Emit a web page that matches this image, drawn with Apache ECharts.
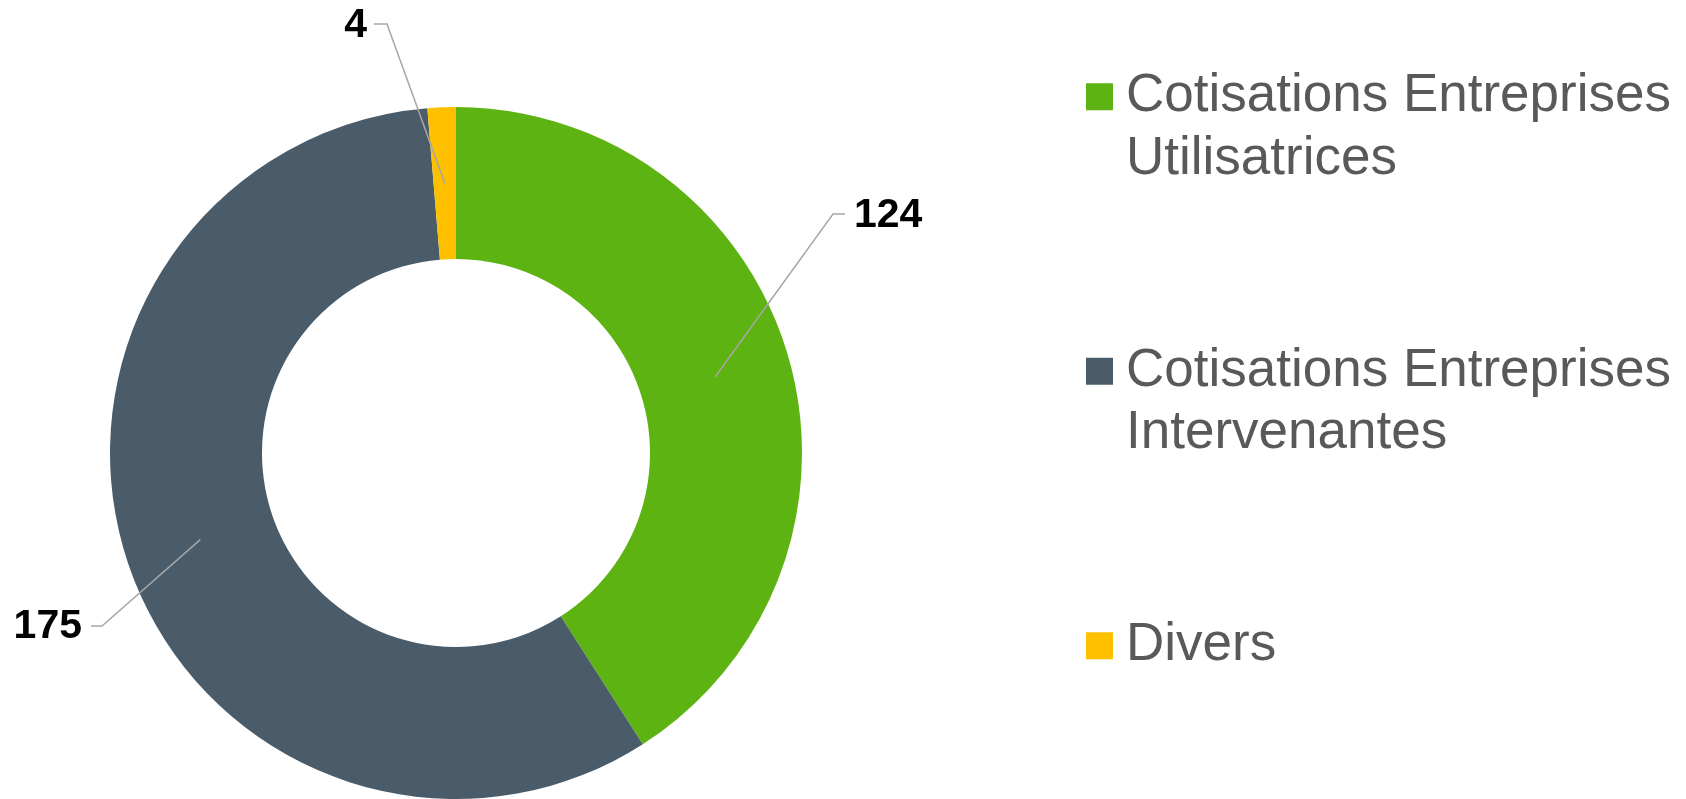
<!DOCTYPE html>
<html>
<head>
<meta charset="utf-8">
<script src="https://cdn.jsdelivr.net/npm/echarts@6/dist/echarts.min.js"></script>
<style>
  html, body { margin: 0; padding: 0; background: #fff; }
  #chart { width: 1686px; height: 799px; }
</style>
</head>
<body>
<div id="chart"></div>
<script>
// Data
const categories = [
    'Cotisations Entreprises Utilisatrices',
    'Cotisations Entreprises Intervenantes',
    'Divers'
];
const values = [124, 175, 4];
const colors = ['#5DB312', '#4A5C6A', '#FFC000'];

// Donut geometry
const cx = 456, cy = 453;
const rInner = 194, rOuter = 346;

// Where each label sits (anchor, alignment, elbow of the leader line)
const labelSpots = [
    { x: 854, y: 216, align: 'left', elbowX: 833, endX: 845, lineY: 214 },
    { x: 82, y: 627, align: 'right', elbowX: 102, endX: 91, lineY: 626 },
    { x: 367, y: 26, align: 'right', elbowX: 387, endX: 374, lineY: 24 }
];

// mid-ring point of each slice, from the values
function sliceMidPoint(idx) {
    const total = values.reduce((a, b) => a + b, 0);
    let before = 0;
    for (let i = 0; i < idx; i++) before += values[i];
    const angle = (before + values[idx] / 2) / total * Math.PI * 2;
    const r = (rInner + rOuter) / 2;
    return [cx + r * Math.sin(angle), cy - r * Math.cos(angle)];
}

const chart = echarts.init(document.getElementById('chart'));

const pieData = categories.map((name, i) => ({ name: name, value: values[i] }));

const option = {
    animation: false,
    color: colors,
    legend: {
        orient: 'vertical',
        left: 1086,
        top: 3,
        padding: 0,
        itemGap: 87,
        itemWidth: 27,
        itemHeight: 27,
        icon: 'rect',
        selectedMode: false,
        data: categories.map((name, i) => ({
            name: name,
            itemStyle: { color: colors[i], opacity: 1 }
        })),
        formatter: name => name === 'Divers'
            ? '\nDivers\n'
            : '\n' + name.replace('Entreprises ', 'Entreprises\n'),
        textStyle: {
            fontFamily: 'Liberation Sans, Arial, sans-serif',
            fontSize: 53,
            lineHeight: 62.5,
            color: '#595959',
            padding: [0, 0, 0, 8]
        }
    },
    series: [
        {
            // the donut itself
            type: 'pie',
            z: 2,
            center: [cx, cy],
            radius: [rInner, rOuter],
            startAngle: 90,
            clockwise: true,
            emphasis: { disabled: true },
            data: pieData,
            label: { show: false },
            labelLine: { show: false }
        },
        {
            // see-through copy on top, only for the labels and leader lines
            type: 'pie',
            z: 5,
            center: [cx, cy],
            radius: [rInner, rOuter],
            startAngle: 90,
            clockwise: true,
            silent: true,
            avoidLabelOverlap: false,
            emphasis: { disabled: true },
            itemStyle: { color: 'rgba(0,0,0,0)' },
            data: pieData,
            label: {
                show: true,
                position: 'outside',
                formatter: '{c}',
                fontFamily: 'Liberation Sans, Arial, sans-serif',
                fontWeight: 'bold',
                fontSize: 41,
                color: '#000',
                opacity: 1
            },
            labelLine: {
                show: true,
                lineStyle: { color: '#A6A6A6', width: 1.5, opacity: 1 }
            },
            labelLayout: function (params) {
                const s = labelSpots[params.dataIndex];
                const start = sliceMidPoint(params.dataIndex);
                return {
                    x: s.x,
                    y: s.y,
                    align: s.align,
                    verticalAlign: 'middle',
                    labelLinePoints: [start, [s.elbowX, s.lineY], [s.endX, s.lineY]]
                };
            }
        }
    ]
};

chart.setOption(option);

window.addEventListener('resize', () => {
    chart.resize();
});
</script>
</body>
</html>
